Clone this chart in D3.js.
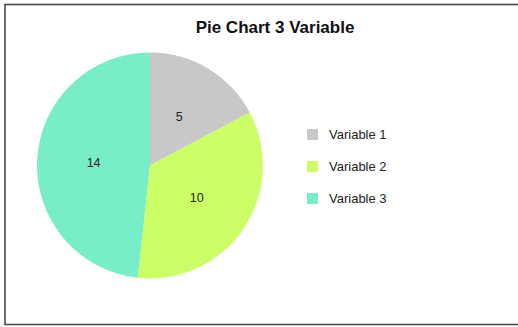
<!DOCTYPE html>
<html>
<head>
<meta charset="utf-8">
<script src="https://cdn.jsdelivr.net/npm/d3@7"></script>
<style>
  html, body { margin: 0; padding: 0; background: #fff; overflow: hidden; }
  svg { display: block; }
</style>
</head>
<body>
<svg id="chart" width="518" height="327"></svg>
<script>
// Chart data
const categories = ["Variable 1", "Variable 2", "Variable 3"];
const values = [5, 10, 14];
const colors = ["#c8c8c8", "#ccff66", "#77eec8"];
const title = "Pie Chart 3 Variable";

const svg = d3.select("#chart");
const W = 518, H = 327;

// Frame around the chart
svg.append("rect")
  .attr("x", 5).attr("y", 4.5)
  .attr("width", W + 20).attr("height", 320)
  .attr("fill", "#fff")
  .attr("stroke", "#4a4a4a")
  .attr("stroke-width", 1.6);

// Title
svg.append("text")
  .attr("x", 275).attr("y", 33)
  .attr("text-anchor", "middle")
  .attr("font-family", "Liberation Sans, Arial, sans-serif")
  .attr("font-weight", "bold")
  .attr("font-size", 17)
  .attr("fill", "#111")
  .text(title);

// Pie
const cx = 150, cy = 165.5, r = 113;
const color = d3.scaleOrdinal().domain(categories).range(colors);
const pie = d3.pie().sort(null).value(d => d.value);
const data = categories.map((c, i) => ({ name: c, value: values[i] }));
const arcs = pie(data);
const arc = d3.arc().innerRadius(0).outerRadius(r);

const g = svg.append("g").attr("transform", `translate(${cx},${cy})`);
g.selectAll("path.slice")
  .data(arcs)
  .join("path")
  .attr("class", "slice")
  .attr("d", arc)
  .attr("fill", d => color(d.data.name));

g.selectAll("text.val")
  .data(arcs)
  .join("text")
  .attr("class", "val")
  .attr("transform", d => `translate(${arc.centroid(d)})`)
  .attr("text-anchor", "middle")
  .attr("dy", "0.35em")
  .attr("font-family", "Liberation Sans, Arial, sans-serif")
  .attr("font-size", 12.5)
  .attr("fill", "#222")
  .text(d => d.data.value);

// Legend
const legend = svg.append("g").attr("transform", "translate(307,129)");
const item = legend.selectAll("g.item")
  .data(categories)
  .join("g")
  .attr("class", "item")
  .attr("transform", (d, i) => `translate(0,${i * 32})`);
item.append("rect")
  .attr("width", 11).attr("height", 11)
  .attr("fill", d => color(d));
item.append("text")
  .attr("x", 22).attr("y", 5.5)
  .attr("dy", "0.35em")
  .attr("font-family", "Liberation Sans, Arial, sans-serif")
  .attr("font-size", 13)
  .attr("fill", "#222")
  .text(d => d);
</script>
</body>
</html>
